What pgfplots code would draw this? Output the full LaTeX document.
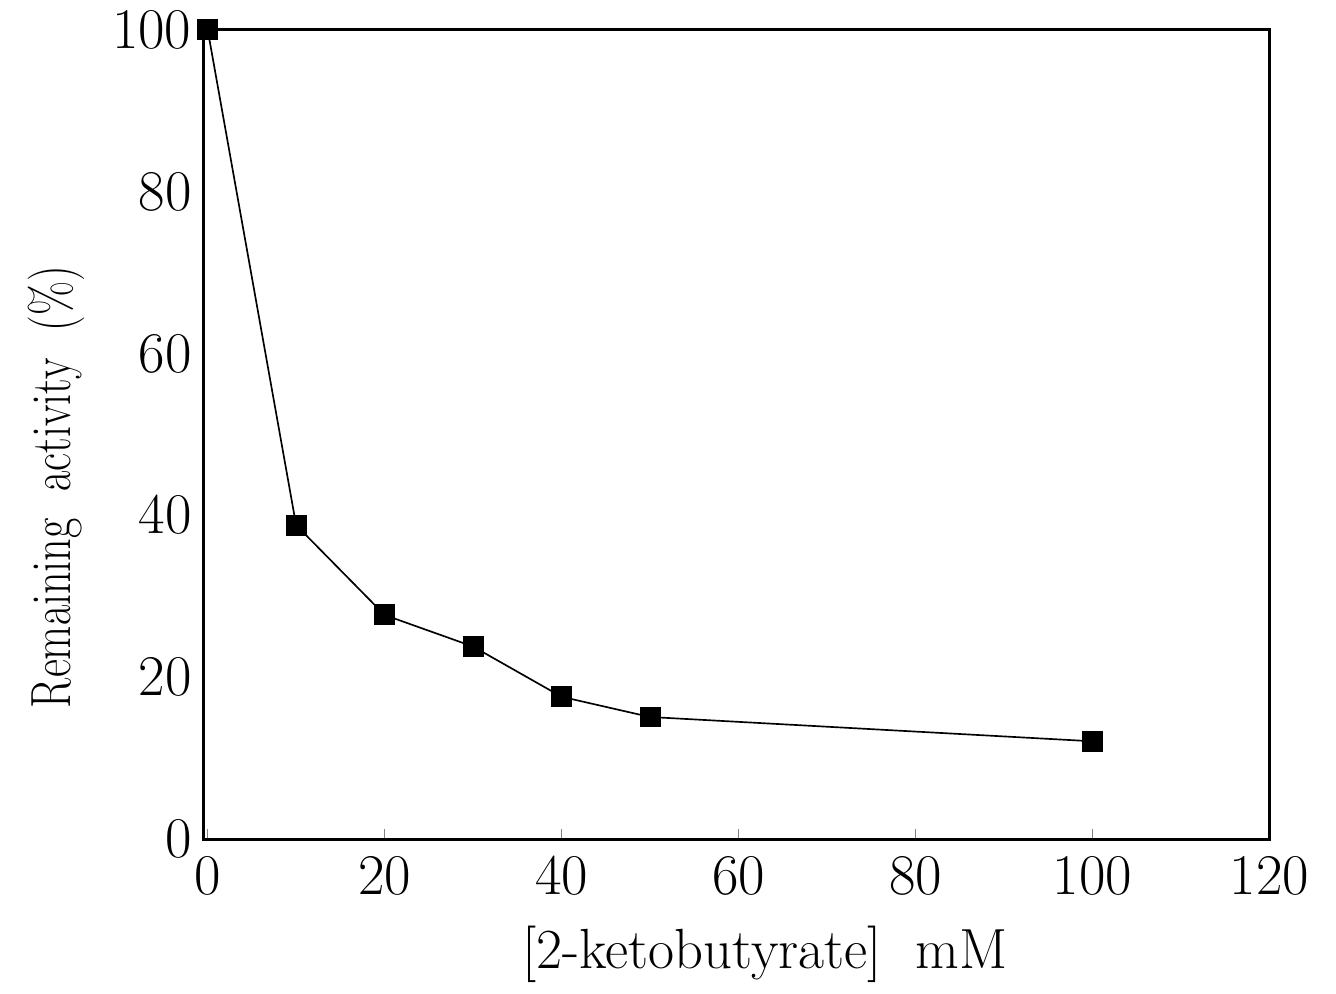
\documentclass[border=0pt]{standalone}
\usepackage{graphicx}
\usepackage{pgfplots}
\pgfplotsset{compat=1.18}
\begin{document}
\begin{tikzpicture}
\begin{axis}[
  scale only axis,
  width=320pt, height=243pt,
  xmin=-0.5, xmax=120, ymin=0, ymax=100,
  xtick={0,20,40,60,80,100,120},
  ytick={0,20,40,60,80,100},
  tick align=inside,
  xtick pos=bottom,
  major tick length=3pt,
  ytick style={draw=none},
  axis line style={line width=0.9pt},
  tick label style={font=\fontsize{17}{20}\selectfont},
  label style={font=\fontsize{17}{20}\selectfont},
  xticklabel style={yshift=-2pt},
  xlabel={[2-ketobutyrate]\ \ mM},
  ylabel={\scalebox{0.78}[1]{Remaining\ \ activity\ \ (\%)}},
  xlabel style={at={(rel axis cs:0.527,0)}, anchor=center, yshift=-34.5pt},
  ylabel style={at={(rel axis cs:0,0.435)}, anchor=center, yshift=44pt},
]
\addplot[black, line width=0.5pt, mark=square*, mark size=2.9pt, mark options={solid, fill=black}]
coordinates {(0,100) (10,38.8) (20,27.7) (30,23.8) (40,17.6) (50,15.1) (100,12.1)};
\end{axis}
\path (current axis.south west) ++(-61pt,-43pt);
\path (current axis.north east) ++(20pt,8.7pt);
\end{tikzpicture}
\end{document}
